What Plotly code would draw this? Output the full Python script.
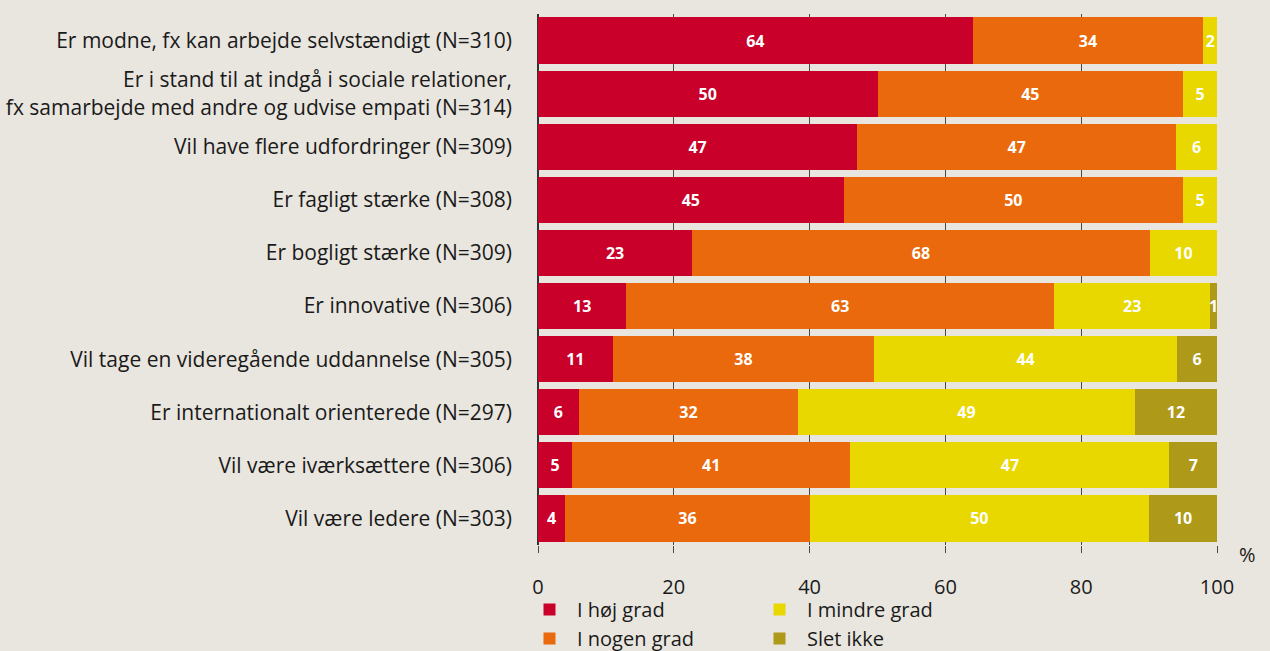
import plotly.graph_objects as go

categories = [
    "Er modne, fx kan arbejde selvstændigt (N=310)",
    "Er i stand til at indgå i sociale relationer,<br>fx samarbejde med andre og udvise empati (N=314)",
    "Vil have flere udfordringer (N=309)",
    "Er fagligt stærke (N=308)",
    "Er bogligt stærke (N=309)",
    "Er innovative (N=306)",
    "Vil tage en videregående uddannelse (N=305)",
    "Er internationalt orienterede (N=297)",
    "Vil være iværksættere (N=306)",
    "Vil være ledere (N=303)",
]
# bar lengths (percent)
hoej = [64, 50, 47, 45, 22.7, 13, 11, 6, 5, 4]
nogen = [34, 45, 47, 50, 67.4, 63, 38.5, 32.3, 41, 36]
mindre = [2, 5, 6, 5, 9.9, 23, 44.6, 49.6, 47, 50]
slet = [0, 0, 0, 0, 0, 1, 5.9, 12.1, 7, 10]
# printed value labels
hoej_lbl = ["64", "50", "47", "45", "23", "13", "11", "6", "5", "4"]
nogen_lbl = ["34", "45", "47", "50", "68", "63", "38", "32", "41", "36"]
mindre_lbl = ["2", "5", "6", "5", "10", "23", "44", "49", "47", "50"]
slet_lbl = ["", "", "", "", "", "1", "6", "12", "7", "10"]
tick_vals = [0, 20, 40, 60, 80, 100]
tick_text = ["0", "20", "40", "60", "80", "100"]

series = [
    ("I høj grad", hoej, hoej_lbl, "#C8002A", "legend"),
    ("I nogen grad", nogen, nogen_lbl, "#EA690C", "legend"),
    ("I mindre grad", mindre, mindre_lbl, "#E8D800", "legend2"),
    ("Slet ikke", slet, slet_lbl, "#AE9918", "legend2"),
]

FONT = "Open Sans"
fig = go.Figure()
for name, vals, lbl, color, lg in series:
    fig.add_trace(go.Bar(
        y=categories, x=vals, name=name, orientation="h",
        marker=dict(color=color, line=dict(width=0)),
        text=lbl,
        textposition="inside", insidetextanchor="middle", textangle=0,
        textfont=dict(family=FONT, size=16, color="white", weight="bold"),
        legend=lg,
    ))

leg_common = dict(yanchor="top", xanchor="left", bgcolor="rgba(0,0,0,0)",
                  font=dict(size=20, family=FONT, color="#1a1a1a"),
                  tracegroupgap=0, traceorder="normal", itemclick=False,
                  itemwidth=45, xref="container", yref="container")
fig.update_layout(
    barmode="stack", bargap=0.13,
    width=1270, height=651,
    margin=dict(l=538, r=53, t=14, b=106, autoexpand=False),
    paper_bgcolor="#E9E6DF", plot_bgcolor="#E9E6DF",
    font=dict(family=FONT, size=20, color="#1a1a1a"),
    uniformtext=dict(minsize=16, mode="show"),
    legend=dict(x=522 / 1270, y=1 - 590 / 651, **leg_common),
    legend2=dict(x=752 / 1270, y=1 - 590 / 651, **leg_common),
    showlegend=True,
)
fig.update_xaxes(
    range=[0, 100], tickvals=tick_vals, ticktext=tick_text,
    showgrid=True, gridcolor="#4a4a4a", gridwidth=1,
    ticks="outside", ticklen=7, tickcolor="#4a4a4a",
    zeroline=True, zerolinecolor="#333333", zerolinewidth=1.5,
    tickfont=dict(size=20, family=FONT, color="#1a1a1a"),
    ticklabelstandoff=17,
    showline=False,
)
fig.update_yaxes(
    autorange="reversed", showgrid=False, ticks="",
    ticklabelstandoff=25,
    tickfont=dict(size=21, family=FONT, color="#1a1a1a"),
)
fig.add_annotation(x=100, y=0, xref="x", yref="paper", text="%",
                   showarrow=False, xanchor="left", yanchor="top",
                   xshift=20, yshift=6,
                   font=dict(size=20, family=FONT, color="#1a1a1a"))
fig.write_html("out.html", config={"displayModeBar": False},
               post_script="document.body.style.margin='0';document.body.style.overflow='hidden';")
